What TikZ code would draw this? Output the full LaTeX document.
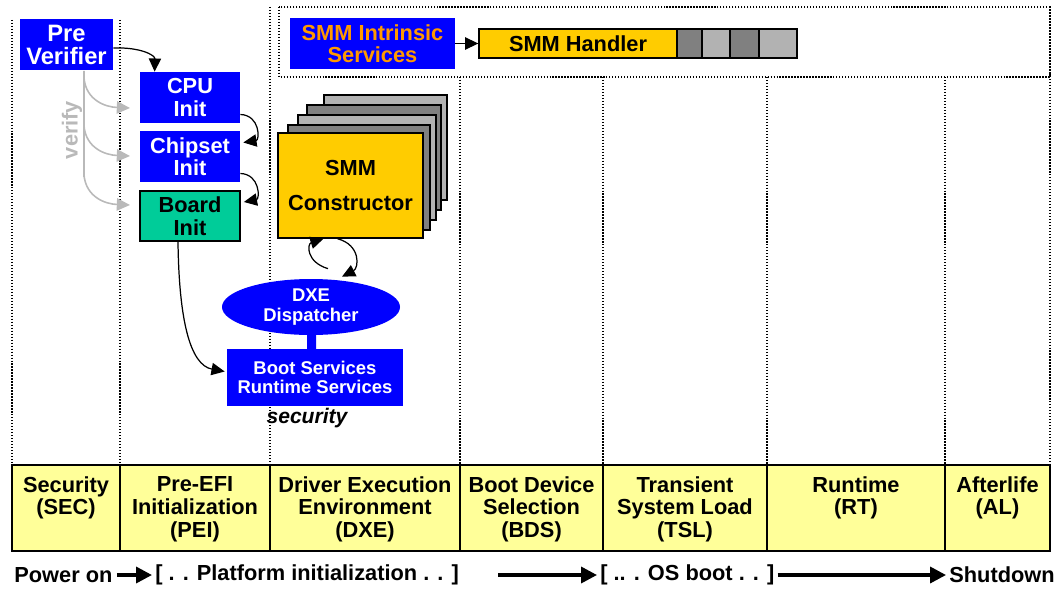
\documentclass[tikz,border=0pt]{standalone}
\usepackage{fontspec}
\setmainfont{Liberation Sans}
\usepackage{tikz}
\usepackage{xcolor}
\usetikzlibrary{calc,arrows.meta,shapes.geometric}

% one pixel of the drawing
\newcommand{\pxu}{0.02cm}

\definecolor{efiblue}{RGB}{0,0,255}
\definecolor{boardgreen}{RGB}{0,204,153}
\definecolor{smmyellow}{RGB}{255,204,0}
\definecolor{phaseyellow}{RGB}{255,255,153}
\definecolor{smmorange}{RGB}{255,153,0}
\definecolor{celldark}{RGB}{128,128,128}
\definecolor{celllight}{RGB}{178,178,178}
\definecolor{verifygray}{RGB}{185,185,185}

\tikzset{
  bigfont/.style={font=\fontsize{12.4}{12.8}\selectfont\bfseries},
  smallfont/.style={font=\fontsize{10.5}{11}\selectfont\bfseries},
  bluebox/.style={fill=efiblue,text=white,bigfont,align=center,inner sep=0pt},
  arr/.style={-{Triangle[length=7.5pt,width=7pt]},black,line width=0.7pt},
  grayarr/.style={-{Triangle[length=7.5pt,width=7pt]},verifygray,line width=0.9pt},
  bigarr/.style={-{Triangle[length=9pt,width=9pt]},line width=2pt},
  sep/.style={densely dotted,line width=0.7pt},
}

\begin{document}
\begin{tikzpicture}[x=\pxu,y=-\pxu]
    \useasboundingbox (0,0) rectangle (1060,588);

    % phase separators and the SMM frame
    \foreach \xx/\yy in {12/20,120/20,270/7,460/77,603/77,767/77,945/77,1050/7}
      \draw [sep] (\xx,\yy) -- (\xx,465);
    \draw [sep] (279,7) rectangle (1050,77);

    % phase table
    \draw [fill=phaseyellow,line width=0.8pt] (12,465) rectangle (1050,551);
    \foreach \xx in {120,270,460,603,767,945}
      \draw [line width=0.8pt] (\xx,465) -- (\xx,551);
    \foreach \xx/\nm/\txt in {66/sec/{Security\\(SEC)},
        195/pei/{Pre-EFI\\Initialization\\(PEI)},
        365/dxephase/{Driver Execution\\Environment\\(DXE)},
        531.5/bds/{Boot Device\\Selection\\(BDS)},
        685/tsl/{Transient\\System Load\\(TSL)},
        856/rt/{Runtime\\(RT)},
        997.5/al/{Afterlife\\(AL)}}
      \node [font=\fontsize{12.4}{13}\selectfont\bfseries,align=center,anchor=north,inner sep=0pt]
        (\nm) at (\xx,476) {\txt};

    % PEI phase
    \node [bluebox,font=\fontsize{13.5}{13.5}\selectfont\bfseries,
      minimum width=93*\pxu,minimum height=51*\pxu] (preverifier) at (66.5,45) {Pre\\Verifier};
    \node [bluebox,minimum width=100*\pxu,minimum height=51*\pxu] (cpu) at (190,97.5) {CPU\\Init};
    \node [bluebox,minimum width=100*\pxu,minimum height=51*\pxu] (chipset) at (190,156.5) {Chipset\\Init};
    \node [draw=black,line width=1pt,fill=boardgreen,bigfont,align=center,inner sep=0pt,
      minimum width=100*\pxu,minimum height=50*\pxu] (board) at (190,216) {Board\\Init};

    % verify branches
    \node [rotate=90,text=verifygray,bigfont] (verify) at (72,130) {verify};
    \coordinate (vtop) at ($(preverifier.south)+(17.5,0)$);
    \coordinate (vbot) at (84,177);
    \draw [verifygray,line width=0.9pt] (vtop) -- (vbot);
    \foreach \yy/\tip in {78/108,126/156,175/205}
      \draw [grayarr] (84,\yy) .. controls (86,\yy+22) and (105,\tip-1) .. (130,\tip);

    \draw [arr] ($(preverifier.east)+(0,3)$) .. controls (140,47) and (155,55) .. ($(cpu.north west)+(15,0)$);
    \draw [arr] ($(cpu.east)+(0,17)$) .. controls (260,115) and (260,140) .. ($(chipset.east)+(3,-14)$);
    \draw [arr] ($(chipset.east)+(0,17)$) .. controls (260,174) and (260,199) .. ($(board.east)+(3,-14)$);

    % SMM constructor stack
    \draw [fill=celllight,line width=0.8pt] (324,95) rectangle (447,200);
    \draw [fill=celldark,line width=0.8pt] (307,105) rectangle (441,210);
    \draw [fill=celllight,line width=0.8pt] (298,115) rectangle (436,220);
    \draw [fill=celldark,line width=0.8pt] (288,125) rectangle (430,230);
    \node [draw=black,line width=0.8pt,fill=smmyellow,bigfont,align=center,inner sep=0pt,
      minimum width=145*\pxu,minimum height=105*\pxu] (smmc) at (350.5,185.5) {SMM\\[7pt]Constructor};

    % DXE dispatcher and services
    \node [ellipse,fill=efiblue,text=white,smallfont,align=center,inner sep=0pt,
      minimum width=178*\pxu,minimum height=56*\pxu] (dxe) at (311,307) {DXE\\Dispatcher};
    \node [bluebox,smallfont,minimum width=176*\pxu,minimum height=57*\pxu] (boot) at (315,377.5)
      {Boot Services\\Runtime Services};
    \draw [efiblue,line width=9*\pxu] ($(dxe.south)+(0.5,-3)$) -- ($(boot.north)+(-3.5,1)$);
    \node [font=\fontsize{12}{12}\selectfont\bfseries\itshape] (security) at (307,418) {security};

    \draw [arr] ($(dxe.north)+(17,-10)$) .. controls (306,262) and (307,244) .. ($(smmc.south)+(-27,0)$);
    \draw [arr] ($(smmc.south)+(-13,0)$) .. controls (361,245) and (359,268) .. ($(dxe.north)+(31,-2)$);
    \draw [arr] ($(board.south)+(-12,0)$) .. controls (179,320) and (190,365) .. ($(boot.west)+(-2,-6)$);

    % SMM runtime part
    \node [bluebox,text=smmorange,minimum width=165*\pxu,minimum height=51*\pxu] (intrinsic)
      at (372.5,43.5) {SMM Intrinsic\\Services};
    \node [draw=black,line width=0.8pt,fill=smmyellow,bigfont,inner sep=0pt,
      minimum width=198*\pxu,minimum height=29*\pxu] (handler) at (578,43.5) {SMM Handler};
    \foreach \xa/\xb/\cc in {677/702/celldark,702/730/celllight,730/759/celldark,759/797/celllight}
      \draw [fill=\cc,line width=0.8pt] (\xa,29) rectangle (\xb,58);
    \draw [arr] (intrinsic.east) -- (handler.west);

    % time line
    \node [bigfont,anchor=west,inner sep=0pt] (poweron) at (14,575) {Power on};
    \node [bigfont,anchor=west,inner sep=0pt] (platinit) at (155,575) {[ . . Platform initialization . . ]};
    \node [bigfont,anchor=west,inner sep=0pt] (osboot) at (600,575) {[ .. . OS boot . . ]};
    \node [bigfont,anchor=east,inner sep=0pt] (shutdown) at (1055,575) {Shutdown};
    \coordinate (osstart) at (498,575);
    \draw [bigarr] ($(poweron.east)+(4,0)$) -- ($(platinit.west)+(-3,0)$);
    \draw [bigarr] (osstart) -- ($(osboot.west)+(-3,0)$);
    \draw [bigarr] ($(osboot.east)+(3,0)$) -- ($(shutdown.west)+(-3,0)$);
\end{tikzpicture}
\end{document}
